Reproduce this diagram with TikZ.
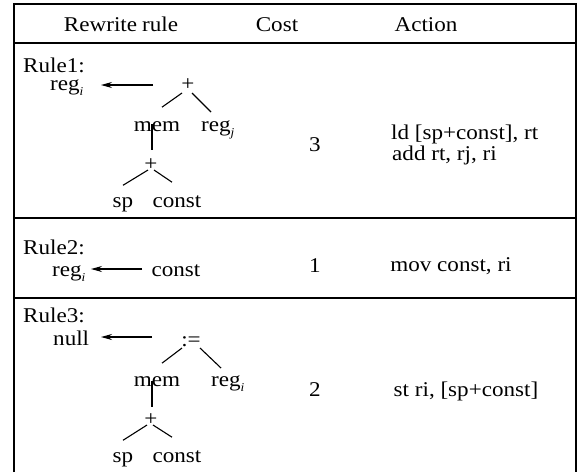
\documentclass[tikz,border=0pt]{standalone}
\usepackage{fontspec}
\setmainfont{Liberation Serif}[FakeStretch=1.1]
\usetikzlibrary{arrows.meta,calc}
\newcommand\subsc[1]{\raisebox{-5pt}{\fontsize{12}{12}\selectfont\itshape #1}}
\begin{document}
\begin{tikzpicture}[x=1pt,y=-1pt,
  txt/.style={inner sep=0pt, anchor=base, font=\fontsize{21}{24}\selectfont},
  txtl/.style={txt, anchor=base west},
  op/.style={inner sep=1pt, font=\fontsize{21}{24}\selectfont},
  edge/.style={line width=1.1pt},
  rul/.style={line width=1.4pt},
  arr/.style={line width=1.1pt, -{Stealth[length=11pt,width=6pt]}}]
\useasboundingbox (0,0) rectangle (577,472);
% table
\draw[rul] (14,472) -- (14,4) -- (576,4) -- (576,472);
\draw[rul] (14,43) -- (576,43);
\draw[rul] (14,218) -- (576,218);
\draw[rul] (14,298) -- (576,298);
% header
\node[txt] (h1) at (121,31) {Rewrite\hspace{5pt}rule};
\node[txt] (h2) at (277,31) {Cost};
\node[txt] (h3) at (426,31) {Action};
% Rule 1
\node[txtl] (r1) at (23,72) {Rule1:};
\node[txtl] (r1l) at (50,90) {reg\subsc{i}};
\coordinate (a1s) at (153,85);
\coordinate (a1e) at (101,85);
\draw[arr] (a1s) -- (a1e);
\node[op] (t1p) at (188,85) {+};
\node[txt] (t1m) at (157,131) {mem};
\node[txtl] (t1r) at (201,131) {reg\subsc{j}};
\node[op] (t1q) at (151,165) {+};
\node[txt] (t1s) at (123,207) {sp};
\node[txt] (t1c) at (177,207) {const};
\draw[edge] ($(t1p)+(-6,8)$) -- ($(t1m)+(5,-19)$);
\draw[edge] ($(t1p)+(4,8)$) -- ($(t1r.base west)+(10,-19)$);
\draw[edge] ($(t1m)+(-5,-2)$) -- ($(t1q)+(1,-15)$);
\draw[edge] ($(t1q)+(-3,5)$) -- ($(t1s)+(0,-19)$);
\draw[edge] ($(t1q)+(3,5)$) -- ($(t1c)+(-5,-19)$);
% Rule 2
\node[txtl] (r2) at (23,254) {Rule2:};
\node[txtl] (r2l) at (52,276) {reg\subsc{i}};
\coordinate (a2s) at (142,269);
\coordinate (a2e) at (91,269);
\draw[arr] (a2s) -- (a2e);
\node[txt] (r2c) at (176,276) {const};
% Rule 3
\node[txtl] (r3) at (23,322) {Rule3:};
\node[txtl] (r3l) at (53,345) {null};
\coordinate (a3s) at (152,337);
\coordinate (a3e) at (101,337);
\draw[arr] (a3s) -- (a3e);
\node[op] (t3a) at (191,342) {:=};
\node[txt] (t3m) at (157,386) {mem};
\node[txtl] (t3r) at (211,386) {reg\subsc{i}};
\node[op] (t3q) at (151,420) {+};
\node[txt] (t3s) at (123,462) {sp};
\node[txt] (t3c) at (177,462) {const};
\draw[edge] ($(t3a)+(-9,6)$) -- ($(t3m)+(5,-18)$);
\draw[edge] ($(t3a)+(9,6)$) -- ($(t3r.base west)+(10,-18)$);
\draw[edge] ($(t3m)+(-5,0)$) -- ($(t3q)+(1,-13)$);
\draw[edge] ($(t3q)+(-4,5)$) -- ($(t3s)+(0,-19)$);
\draw[edge] ($(t3q)+(2,5)$) -- ($(t3c)+(-5,-19)$);
% costs and actions
\node[txt] (c1) at (315,151) {3};
\node[txtl] (x1a) at (391,139) {ld [sp+const], rt};
\node[txtl] (x1b) at (392,160) {add rt, rj, ri};
\node[txt] (c2) at (315,272) {1};
\node[txt] (x2) at (451,271) {mov const, ri};
\node[txt] (c3) at (315,396) {2};
\node[txt] (x3) at (466,396) {st ri, [sp+const]};
\end{tikzpicture}
\end{document}
